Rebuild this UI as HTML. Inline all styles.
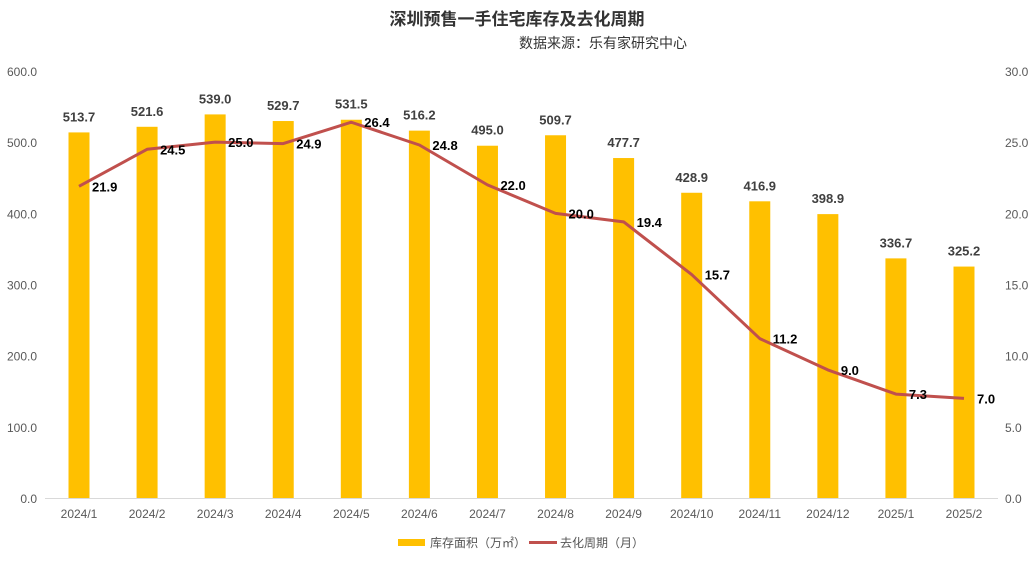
<!DOCTYPE html>
<html><head><meta charset="utf-8"><style>
body{margin:0;background:#fff;width:1034px;height:557px;overflow:hidden;font-family:"Liberation Sans","Noto Sans CJK SC",sans-serif}
</style></head><body>
<svg id="chart" width="1034" height="557" xmlns="http://www.w3.org/2000/svg" font-family="Liberation Sans, Noto Sans CJK SC, sans-serif">
<text x="517" y="25" text-anchor="middle" font-size="17" font-weight="bold" fill="#333">深圳预售一手住宅库存及去化周期</text>
<text x="603" y="48" text-anchor="middle" font-size="14" fill="#333">数据来源：乐有家研究中心</text>
<g id="plot"></g>
<g>
<rect x="398" y="539" width="27" height="7" fill="#FFC000"/>
<text x="430" y="547" font-size="12" fill="#555">库存面积（万㎡）</text>
<rect x="529" y="541" width="28" height="3" fill="#C0504D"/>
<text x="560" y="547" font-size="12" fill="#555">去化周期（月）</text>
</g>
</svg>
<script>
const categories=["2024/1","2024/2","2024/3","2024/4","2024/5","2024/6","2024/7","2024/8","2024/9","2024/10","2024/11","2024/12","2025/1","2025/2"];
const inventory=[513.7,521.6,539.0,529.7,531.5,516.2,495.0,509.7,477.7,428.9,416.9,398.9,336.7,325.2];
const cycle=[21.9,24.5,25.0,24.9,26.4,24.8,22.0,20.0,19.4,15.7,11.2,9.0,7.3,7.0];
const leftTicks=[0,100,200,300,400,500,600];
const rightTicks=[0,5,10,15,20,25,30];
const NS="http://www.w3.org/2000/svg";
const g=document.getElementById('plot');
const x0=79,step=(964-79)/13,yb=498,yt=71;
const xs=i=>x0+i*step;
const yL=v=>yb-(v/600)*(yb-yt);
const yR=v=>yb-(v/30)*(yb-yt);
function mk(t,a){const e=document.createElementNS(NS,t);for(const k in a)e.setAttribute(k,a[k]);g.appendChild(e);return e;}
leftTicks.forEach(v=>{const t=mk('text',{x:37,y:yL(v)+5,'text-anchor':'end','font-size':12,fill:'#595959'});t.textContent=v.toFixed(1);

});
rightTicks.forEach(v=>{const t=mk('text',{x:1005,y:yR(v)+5,'font-size':12,fill:'#595959'});t.textContent=v.toFixed(1);

});
const ax=mk('line',{x1:45,x2:998,y1:yb+0.5,y2:yb+0.5,stroke:'#d9d9d9','stroke-width':1});


categories.forEach((c,i)=>{
const t=mk('text',{x:xs(i),y:518,'text-anchor':'middle','font-size':12,fill:'#595959'});t.textContent=c;


const b=mk('rect',{x:xs(i)-10.5,y:yL(inventory[i]),width:21,height:yb-yL(inventory[i]),fill:'#FFC000'});


const l=mk('text',{x:xs(i),y:yL(inventory[i])-11,'text-anchor':'middle','font-size':13,'font-weight':'bold',fill:'#404040'});l.textContent=inventory[i].toFixed(1);


});
const p=mk('polyline',{points:cycle.map((v,i)=>xs(i)+','+yR(v)).join(' '),fill:'none',stroke:'#C0504D','stroke-width':3,'stroke-linejoin':'round'});


cycle.forEach((v,i)=>{
const l=mk('text',{x:xs(i)+13,y:yR(v)+5,'font-size':13,'font-weight':'bold',fill:'#000'});l.textContent=v.toFixed(1);


});
</script>
</body></html>
